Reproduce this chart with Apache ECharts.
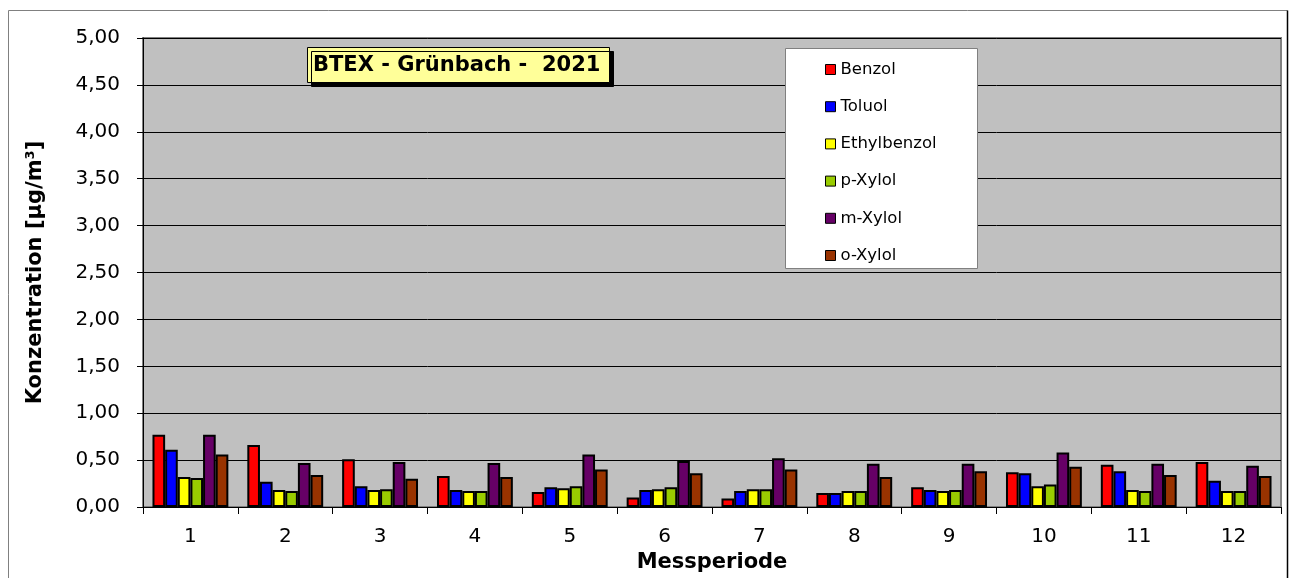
<!DOCTYPE html>
<html>
<head>
<meta charset="utf-8">
<script src="https://cdn.jsdelivr.net/npm/echarts@6/dist/echarts.min.js"></script>
<style>
  html, body { margin: 0; padding: 0; background: #fff; }
  #chart { width: 1298px; height: 578px; }
</style>
</head>
<body>
<div id="chart"></div>
<script>
// Messperioden 1..12
const periods = ['1', '2', '3', '4', '5', '6', '7', '8', '9', '10', '11', '12'];

// Konzentrationen in µg/m³
const benzol       = [0.77, 0.66, 0.51, 0.33, 0.16, 0.10, 0.09, 0.15, 0.21, 0.37, 0.45, 0.48];
const toluol       = [0.61, 0.27, 0.22, 0.18, 0.21, 0.18, 0.17, 0.15, 0.18, 0.36, 0.38, 0.28];
const ethylbenzol  = [0.32, 0.18, 0.18, 0.17, 0.20, 0.19, 0.19, 0.17, 0.17, 0.22, 0.18, 0.17];
const pXylol       = [0.31, 0.17, 0.19, 0.17, 0.22, 0.21, 0.19, 0.17, 0.18, 0.24, 0.17, 0.17];
const mXylol       = [0.77, 0.47, 0.48, 0.47, 0.56, 0.49, 0.52, 0.46, 0.46, 0.58, 0.46, 0.44];
const oXylol       = [0.56, 0.34, 0.30, 0.32, 0.40, 0.36, 0.40, 0.32, 0.38, 0.43, 0.34, 0.33];

const seriesNames = ['Benzol', 'Toluol', 'Ethylbenzol', 'p-Xylol', 'm-Xylol', 'o-Xylol'];
const seriesData = [benzol, toluol, ethylbenzol, pXylol, mXylol, oXylol];
const colors = ['#FF0000', '#0000FF', '#FFFF00', '#99CC00', '#660066', '#993300'];

// the original text is wide, DejaVu Sans comes closest
const FONT = '"DejaVu Sans", Arial, sans-serif';

const chart = echarts.init(document.getElementById('chart'));

const option = {
  animation: false,
  title: {
    text: 'BTEX - Grünbach -  2021',
    left: 307,
    top: 47,
    padding: [8, 9, 7, 6],
    backgroundColor: '#FFFF99',
    borderColor: '#000',
    borderWidth: 1,
    shadowColor: '#000',
    shadowOffsetX: 4,
    shadowOffsetY: 4,
    shadowBlur: 0,
    textStyle: { fontFamily: FONT, fontSize: 21, fontWeight: 'bold', color: '#000' },
    z: 12
  },
  legend: {
    data: seriesNames,
    orient: 'vertical',
    left: 820,
    top: 56,
    itemWidth: 10,
    itemHeight: 10,
    itemGap: 20.2,
    icon: 'rect',
    itemStyle: { borderColor: '#000', borderWidth: 1 },
    textStyle: { fontFamily: FONT, fontSize: 16.5, color: '#000', lineHeight: 16.5, padding: [0, 0, 0, 0] },
    z: 12
  },
  graphic: [
    {
      type: 'rect',
      z: 11,
      shape: { x: 785.5, y: 48.5, width: 192, height: 220 },
      style: { fill: '#fff', stroke: '#808080', lineWidth: 1 }
    },
    {
      type: 'polyline',
      z: 11,
      shape: { points: [[8.5, 590], [8.5, 10.5], [1287.5, 10.5]] },
      style: { stroke: '#808080', lineWidth: 1, fill: null }
    },
    {
      type: 'line',
      z: 11,
      shape: { x1: 1287.5, y1: 10.5, x2: 1287.5, y2: 590 },
      style: { stroke: '#000', lineWidth: 1.5 }
    }
  ],
  grid: {
    left: 143,
    right: 17,
    top: 38,
    bottom: 71,
    show: true,
    backgroundColor: '#C0C0C0',
    borderColor: '#808080',
    borderWidth: 2
  },
  xAxis: {
    type: 'category',
    data: periods,
    name: 'Messperiode',
    nameLocation: 'middle',
    nameGap: 37,
    nameTextStyle: { fontFamily: FONT, fontSize: 21, fontWeight: 'bold', color: '#000' },
    axisLine: { show: true, lineStyle: { color: '#000', width: 1 } },
    axisTick: { show: true, length: 7, lineStyle: { color: '#000' } },
    axisLabel: { fontFamily: FONT, fontSize: 20, color: '#000', margin: 20 },
    splitLine: { show: false }
  },
  yAxis: {
    type: 'value',
    min: 0,
    max: 5,
    interval: 0.5,
    name: 'Konzentration [µg/m³]',
    nameLocation: 'middle',
    nameGap: 97,
    nameTextStyle: { fontFamily: FONT, fontSize: 21, fontWeight: 'bold', color: '#000' },
    axisLine: { show: true, lineStyle: { color: '#000', width: 1 } },
    axisTick: { show: true, inside: false, length: 6, lineStyle: { color: '#000' } },
    axisLabel: {
      fontFamily: FONT,
      fontSize: 20,
      color: '#000',
      margin: 23,
      padding: [4, 0, 0, 0],
      formatter: v => v.toFixed(2).replace('.', ',')
    },
    splitLine: { show: true, lineStyle: { color: '#000', width: 1 } }
  },
  series: seriesNames.map((name, i) => ({
    name: name,
    type: 'bar',
    data: seriesData[i],
    barGap: '0%',
    barCategoryGap: '20%',
    itemStyle: { color: colors[i], borderColor: '#000', borderWidth: 2 }
  }))
};

chart.setOption(option);
</script>
</body>
</html>
